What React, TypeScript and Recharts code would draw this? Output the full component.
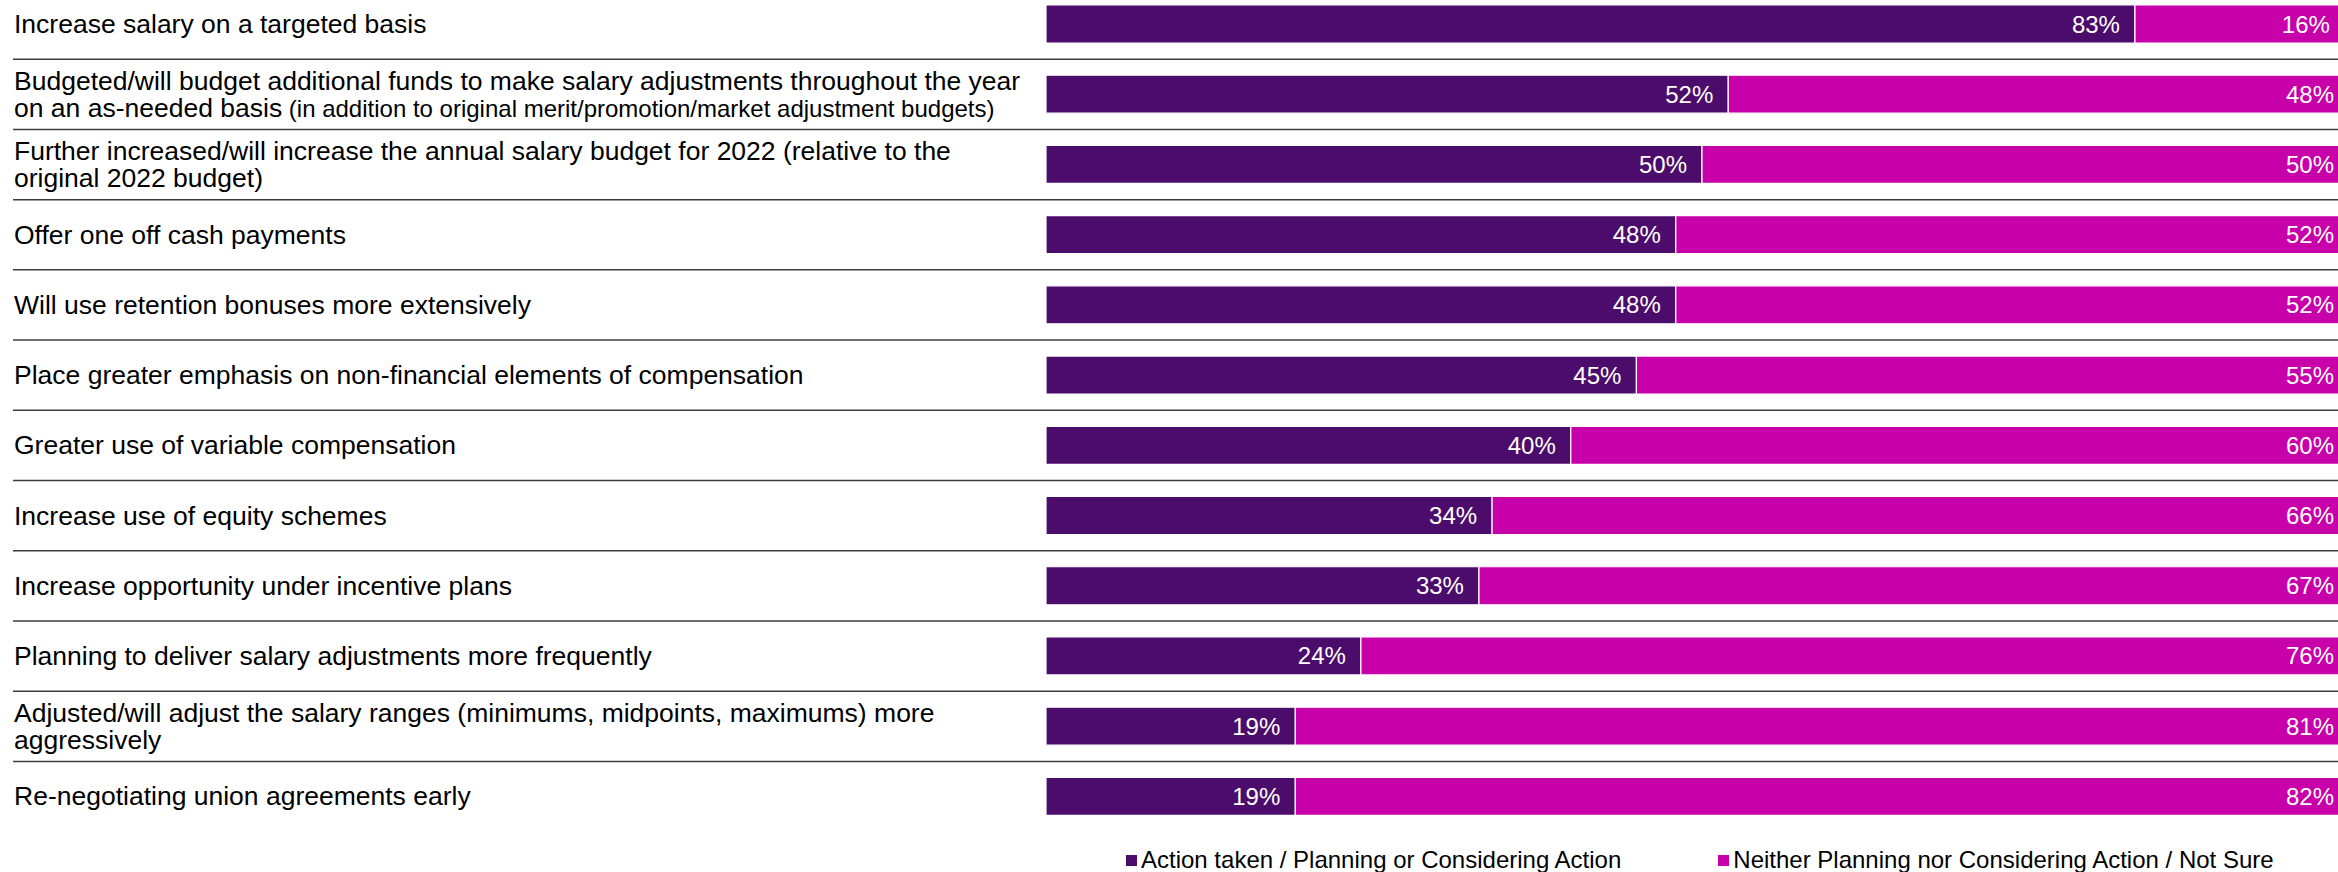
import { Bar, BarChart, LabelList, Legend, XAxis, YAxis } from "recharts";

const FONT = '"Liberation Sans", Arial, sans-serif';

const categories = [
  "Increase salary on a targeted basis",
  "Budgeted/will budget additional funds to make salary adjustments throughout the year\non an as-needed basis",
  "Further increased/will increase the annual salary budget for 2022 (relative to the\noriginal 2022 budget)",
  "Offer one off cash payments",
  "Will use retention bonuses more extensively",
  "Place greater emphasis on non-financial elements of compensation",
  "Greater use of variable compensation",
  "Increase use of equity schemes",
  "Increase opportunity under incentive plans",
  "Planning to deliver salary adjustments more frequently",
  "Adjusted/will adjust the salary ranges (minimums, midpoints, maximums) more\naggressively",
  "Re-negotiating union agreements early",
];

// smaller text appended to the last line of a label
const notes = [
  "",
  " (in addition to original merit/promotion/market adjustment budgets)",
  "", "", "", "", "", "", "", "", "", "",
];

const actionTaken = [83, 52, 50, 48, 48, 45, 40, 34, 33, 24, 19, 19];
const notPlanning = [16, 48, 50, 52, 52, 55, 60, 66, 67, 76, 81, 82];

const seriesNames = [
  "Action taken / Planning or Considering Action",
  "Neither Planning nor Considering Action / Not Sure",
];

const PURPLE = "#4B0C6B";
const MAGENTA = "#C800AA";

const CHART_W = 2358;
const ROW_H = 70.2;
const LINE_H = 26.5;

const rows = categories.map((name, i) => ({
  name,
  action: actionTaken[i],
  neither: notPlanning[i],
}));

function RowLabel(props: any) {
  const { y, index, payload } = props;
  const lines = String(payload.value).split("\n");
  const note = notes[index];
  const first = y - ((lines.length - 1) * LINE_H) / 2;
  return (
    <g>
      <text x={14} fontSize={26.5} fill="#000" fontFamily={FONT}>
        {lines.map((ln, i) => (
          <tspan key={i} x={14} y={first + i * LINE_H + 9}>
            {ln}
            {i === lines.length - 1 && note ? <tspan fontSize={24}>{note}</tspan> : null}
          </tspan>
        ))}
      </text>
      {index < categories.length - 1 && (
        <line
          x1={13}
          x2={CHART_W}
          y1={y + ROW_H / 2}
          y2={y + ROW_H / 2}
          stroke="#3c3c3c"
          strokeWidth={1.5}
        />
      )}
    </g>
  );
}

const valueLabel = (clamp: boolean) => (props: any) => {
  const { x, y, width, height, value } = props;
  let right = Number(x) + Number(width) - 15;
  if (clamp) right = Math.min(right, 2334);
  return (
    <text
      x={right}
      y={Number(y) + Number(height) / 2 + 8.5}
      textAnchor="end"
      fill="#fff"
      fontSize={24}
      fontFamily={FONT}
    >
      {value}%
    </text>
  );
};

const renderLegend = (props: any) => {
  const payload = props.payload || [];
  return (
    <div
      style={{
        display: "flex",
        paddingLeft: 1126,
        gap: 97,
        height: 24,
        lineHeight: "24px",
        fontSize: 24,
        fontFamily: FONT,
        color: "#000",
      }}
    >
      {payload.map((p: any, i: number) => (
        <div key={i} style={{ display: "flex", alignItems: "center", height: 24 }}>
          <span style={{ width: 11, height: 11, background: p.color, marginRight: 4 }} />
          <span>{p.value}</span>
        </div>
      ))}
    </div>
  );
};

export default function App() {
  return (
    <div
      style={{
        position: "absolute",
        left: 0,
        top: 0,
        width: 2338,
        height: 872,
        overflow: "hidden",
        background: "#fff",
        fontFamily: FONT,
      }}
    >
      <div style={{ position: "absolute", left: 0, top: -11 }}>
        <BarChart
          width={CHART_W}
          height={883}
          layout="vertical"
          data={rows}
          barSize={38}
          margin={{ top: 0, right: 0, bottom: 16.4, left: 0 }}
        >
          <XAxis type="number" domain={[0, 100]} allowDataOverflow hide />
          <YAxis
            type="category"
            dataKey="name"
            width={1046}
            interval={0}
            tickLine={false}
            axisLine={false}
            tick={<RowLabel />}
          />
          <Legend
            verticalAlign="bottom"
            content={renderLegend}
            wrapperStyle={{ left: 0, bottom: 0, width: CHART_W, height: 24 }}
          />
          <Bar
            dataKey="action"
            name={seriesNames[0]}
            stackId="a"
            fill={PURPLE}
            stroke="#fff"
            strokeWidth={1.2}
            isAnimationActive={false}
          >
            <LabelList dataKey="action" content={valueLabel(false)} />
          </Bar>
          <Bar
            dataKey="neither"
            name={seriesNames[1]}
            stackId="a"
            fill={MAGENTA}
            stroke="#fff"
            strokeWidth={1.2}
            isAnimationActive={false}
          >
            <LabelList dataKey="neither" content={valueLabel(true)} />
          </Bar>
        </BarChart>
      </div>
    </div>
  );
}
